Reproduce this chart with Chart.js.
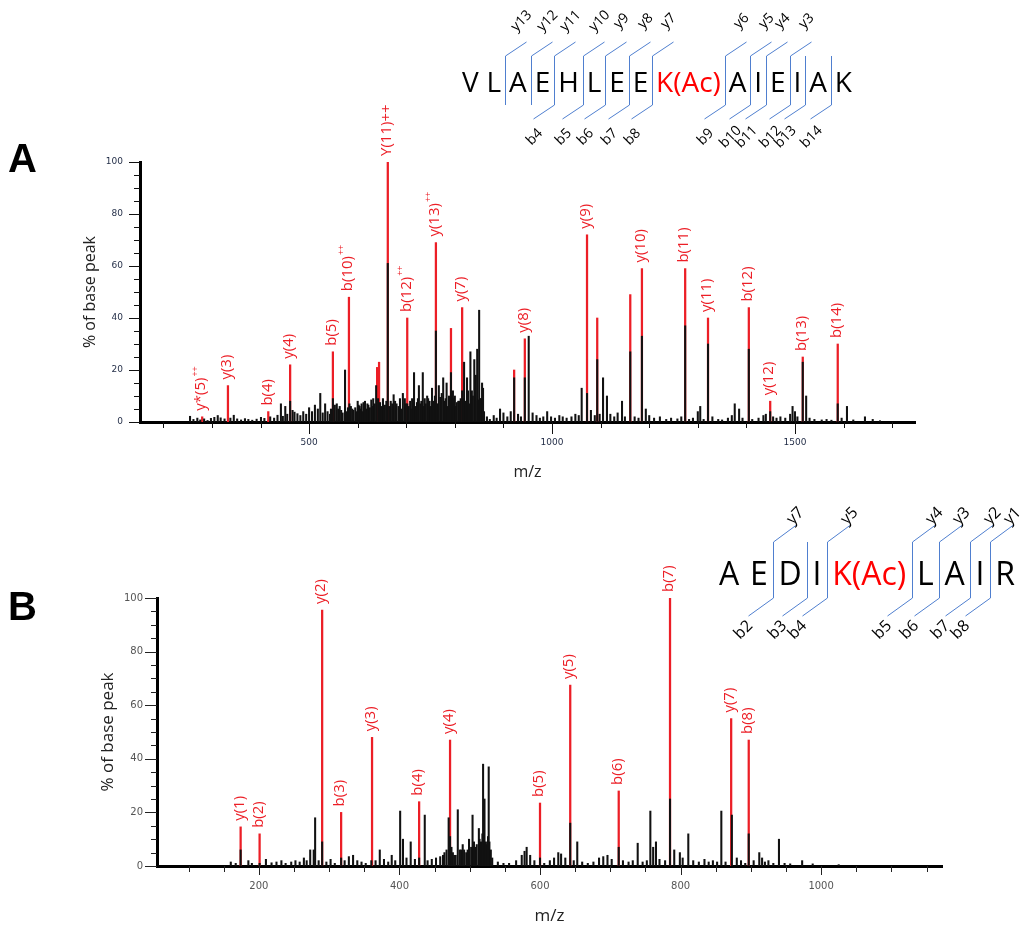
<!DOCTYPE html>
<html>
<head>
<meta charset="utf-8">
<title>MS/MS spectra</title>
<script src="https://cdn.jsdelivr.net/npm/chart.js@4.4.1/dist/chart.umd.min.js"></script>
<style>
  html, body { margin: 0; padding: 0; background: #fff; }
  #wrap { position: relative; width: 1022px; height: 926px; overflow: hidden; }
  canvas { position: absolute; left: 0; }
  #chartA { top: 0; }
  #chartB { top: 490px; }
</style>
</head>
<body>
<div id="wrap">
  <canvas id="chartA" width="1022" height="490"></canvas>
  <canvas id="chartB" width="1022" height="436"></canvas>
</div>
<script>
// ---------- panel A : VLAEHLEEK(Ac)AIEIAK ----------
const seqA = ['V', 'L', 'A', 'E', 'H', 'L', 'E', 'E', 'K(Ac)', 'A', 'I', 'E', 'I', 'A', 'K'];
const modA = 8;
const bIonsA = [4, 5, 6, 7, 8, 9, 10, 11, 12, 13, 14];
const yIonsA = [13, 12, 11, 10, 9, 8, 7, 6, 5, 4, 3];

// matched fragment ions (red), '^' = superscript charge
const ionMzA = [280, 333, 416, 461, 549, 582, 662, 702, 761, 815, 944, 1072, 1185, 1274, 1321, 1405, 1449, 1516, 1588];
const ionIntA = [2, 14, 4, 22, 27, 48, 100, 40, 69, 44, 32, 72, 59, 59, 40, 44, 8, 25, 30];
const ionLabelA = ['y*(5)^++', 'y(3)', 'b(4)', 'y(4)', 'b(5)', 'b(10)^++', 'Y(11)++', 'b(12)^++', 'y(13)^++', 'y(7)',
  'y(8)', 'y(9)', 'y(10)', 'b(11)', 'y(11)', 'b(12)', 'y(12)', 'b(13)', 'b(14)'];
// other matched peaks without a label
const redMzA = [640, 644, 792, 922, 1093, 1161];
const redIntA = [21, 23, 36, 20, 40, 49];

// raw spectrum (black)
const peakMzA = [255, 262, 270, 276, 284, 291, 298, 305, 312, 318, 326, 338, 345, 352, 360, 368, 375, 383, 392, 401,
  408, 420, 428, 435, 442, 446, 451, 455, 461, 466, 470, 476, 482, 488, 494, 500, 506, 512, 518, 523,
  528, 533, 538, 543, 549, 553, 557, 560, 566, 574, 580, 586, 591, 595, 600, 604, 608, 612, 618, 622,
  628, 632, 638, 646, 652, 656, 662, 668, 674, 680, 687, 693, 702, 708, 712, 716, 722, 726, 734, 738,
  743, 748, 753, 759, 761, 764, 767, 770, 773, 776, 783, 788, 792, 796, 800, 804, 807, 812, 815, 819,
  822, 825, 827, 832, 835, 840, 843, 846, 848, 850, 854, 856, 858, 866, 872, 880, 886, 893, 900, 908,
  915, 922, 930, 936, 944, 952, 960, 968, 975, 982, 990, 998, 1006, 1015, 1022, 1030, 1040, 1048, 1055, 1061,
  1072, 1080, 1088, 1093, 1098, 1105, 1113, 1120, 1128, 1135, 1144, 1150, 1161, 1170, 1178, 1185, 1193, 1200, 1210, 1222,
  1235, 1245, 1258, 1266, 1274, 1282, 1290, 1300, 1305, 1312, 1321, 1330, 1342, 1350, 1362, 1370, 1376, 1385, 1392, 1405,
  1412, 1425, 1435, 1440, 1449, 1455, 1462, 1470, 1480, 1490, 1495, 1500, 1505, 1516, 1523, 1530, 1540, 1555, 1565, 1575,
  1588, 1596, 1607, 1620, 1644, 1660, 1675];
const peakIntA = [2.2, 1, 1.5, 0.8, 1.2, 0.6, 1.4, 1.8, 2.5, 1.6, 1.2, 1.5, 2.6, 1.2, 0.8, 1.3, 1, 0.7, 1.1, 1.8,
  1.4, 2, 1.5, 2.6, 7, 2.2, 6, 3, 8, 4.5, 3.8, 3.2, 2.5, 4, 3, 5.5, 4, 6.5, 5, 11,
  3.5, 7, 4, 3, 9, 6.5, 7, 5, 4.5, 20, 5.5, 6, 4.5, 5.5, 8, 6, 7, 7.5, 5, 6.5,
  8.5, 9, 14, 7.5, 9, 6.5, 61, 8, 10.5, 7, 9, 11, 7, 8, 9, 19, 7.5, 14, 19, 9,
  10, 8, 13, 10, 35, 7, 14, 9.5, 11, 17, 15, 10, 19, 12, 10, 7.5, 8, 9, 12, 23,
  8, 17, 12, 27, 12, 24, 18, 28, 8.5, 43, 9, 15, 13, 2, 1, 2.5, 1.5, 5, 3.5, 2,
  4, 17, 3, 2, 17, 33, 3.5, 2.5, 1.5, 2, 4, 2, 1.5, 2.5, 2, 1.5, 2, 3, 2.5, 13,
  11, 4.5, 2.5, 24, 3, 17, 10, 3, 2, 3.5, 8, 2, 27, 2, 1.5, 33, 5, 2.5, 1.5, 2,
  1, 1.5, 1.2, 2, 37, 1, 1.5, 4, 6, 1, 30, 2, 1, 0.8, 1.5, 2.5, 7, 5, 1.5, 28,
  1, 1.5, 2.5, 3, 4, 2, 1.5, 2, 1.5, 3, 6, 4, 2, 23, 10, 1.5, 1, 0.8, 1, 0.7,
  7, 1.5, 6, 0.8, 2, 1, 0.5];
// the dense low cluster between m/z 540 and 860
const clusterMzA = [545, 563, 569, 577, 583, 589, 597, 602, 606, 610, 615, 620, 625, 630, 635, 642, 649, 654, 659, 665,
  671, 677, 684, 690, 697, 699, 705, 710, 714, 719, 724, 729, 731, 736, 740, 745, 750, 756, 762, 779,
  781, 786, 790, 798, 802, 809, 817, 829, 837, 842, 852, 860];
const clusterIntA = [5, 6, 3.5, 4, 7, 5, 4, 6.5, 5, 4, 8, 7, 5.5, 6, 7, 9, 6, 5, 8, 6,
  7, 8, 6, 5, 9, 7, 6, 5, 8, 6, 9, 7, 8, 6, 7, 9, 6, 8, 7, 8,
  9, 6, 7, 9, 6, 8, 9, 7, 10, 8, 9, 4];
const xTicksA = [500, 1000, 1500];

// ---------- panel B : AEDIK(Ac)LAIR ----------
const seqB = ['A', 'E', 'D', 'I', 'K(Ac)', 'L', 'A', 'I', 'R'];
const modB = 4;
const bIonsB = [2, 3, 4, 5, 6, 7, 8];
const yIonsB = [7, 5, 4, 3, 2, 1];

const ionMzB = [174, 201, 290, 317, 361, 428, 472, 600, 643, 712, 785, 872, 897];
const ionIntB = [14.6, 12, 95.5, 20, 48, 24, 47, 23.5, 67.5, 28, 100, 55, 47];
const ionLabelB = ['y(1)', 'b(2)', 'y(2)', 'b(3)', 'y(3)', 'b(4)', 'y(4)', 'b(5)', 'y(5)', 'b(6)', 'b(7)', 'y(7)', 'b(8)'];
const redMzB = [];
const redIntB = [];

const peakMzB = [160, 167, 174, 185, 190, 201, 210, 218, 225, 232, 238, 246, 252, 258, 264, 268, 273, 278, 280, 285,
  290, 296, 302, 308, 317, 322, 328, 334, 340, 346, 352, 360, 366, 372, 378, 384, 389, 394, 401, 405,
  410, 416, 422, 428, 436, 440, 446, 452, 458, 462, 470, 472, 476, 480, 483, 488, 492, 495, 499, 504,
  508, 513, 516, 519, 521, 524, 527, 528, 532, 540, 548, 556, 566, 574, 578, 581, 586, 592, 600, 606,
  614, 620, 626, 630, 636, 643, 648, 653, 660, 668, 676, 684, 690, 696, 702, 712, 718, 726, 732, 739,
  746, 752, 757, 761, 765, 770, 778, 785, 791, 799, 803, 811, 818, 826, 834, 840, 846, 852, 858, 864,
  873, 880, 886, 892, 897, 904, 912, 916, 920, 925, 932, 940, 948, 956, 973, 988, 1025];
const peakIntB = [1.5, 1, 6, 2, 1, 1, 2.5, 1.2, 1.5, 2, 1, 1.5, 2, 1.5, 3, 2, 6, 6, 18, 2,
  9, 1.5, 2.5, 1, 3, 2, 3.5, 4, 2, 1.5, 1, 2, 2, 6, 2.5, 1.5, 4, 2, 20.5, 10,
  3, 9, 2.5, 3, 19, 2, 2.5, 3, 3.5, 4, 18, 11, 5, 4, 21, 6, 6, 5, 10, 19,
  7, 14, 9, 38, 25, 8, 37, 9, 3, 1.5, 1, 1, 2, 4, 5.5, 7, 4, 2, 3, 1,
  2, 3, 5, 4.5, 3, 16, 2, 9, 1.5, 1, 1.5, 3, 3.5, 4, 2.5, 7, 2, 1.5, 2, 8.5,
  1.5, 2, 20.5, 7, 9, 2.5, 2, 25, 6, 5, 3, 12, 2, 1.5, 2.5, 1.5, 2, 1.5, 20.5, 1.5,
  19, 3, 2, 1, 12, 2, 5, 3, 1.5, 2, 1, 10, 1, 0.8, 2, 0.8, 0.5];
const clusterMzB = [464, 467, 474, 478, 486, 490, 497, 502, 506, 510, 514, 518, 523, 526, 530];
const clusterIntB = [5, 6, 7, 4, 6, 8, 6, 7, 9, 8, 10, 12, 9, 11, 6];
const xTicksB = [200, 400, 600, 800, 1000];

const yTicks = [0, 20, 40, 60, 80, 100];

const RED = 'rgb(236, 30, 38)';
const BLUE = '#4f7fcf';

// rotated red labels above the matched ions
const ionLabelPlugin = {
  id: 'ionLabels',
  afterDatasetsDraw(chart, args, o) {
    const { ctx, scales: { x, y } } = chart;
    ctx.save();
    ctx.fillStyle = RED;
    o.mz.forEach((m, i) => {
      let main = o.labels[i], sup = '';
      if (main.endsWith('^++')) { sup = '++'; main = main.slice(0, -3); }
      ctx.save();
      ctx.translate(x.getPixelForValue(m) - 1, y.getPixelForValue(o.int[i]) - 6);
      ctx.rotate(-Math.PI / 2);
      ctx.font = '15px "Open Sans"';
      ctx.textAlign = 'left';
      ctx.textBaseline = 'middle';
      ctx.fillText(main, 0, 0);
      if (sup) {
        const w = ctx.measureText(main).width;
        ctx.font = '9px "Open Sans"';
        ctx.fillText(sup, w + 1, -6);
      }
      ctx.restore();
    });
    ctx.restore();
  }
};

// small and large tick marks on both axes
const axisTickPlugin = {
  id: 'axisTicks',
  afterDraw(chart, args, o) {
    const { ctx, chartArea: a, scales: { x, y } } = chart;
    ctx.save();
    ctx.strokeStyle = o.color;
    ctx.lineWidth = 1;
    ctx.beginPath();
    for (let v = 0; v <= 100; v += 5) {
      const py = Math.round(y.getPixelForValue(v)) + 0.5;
      const len = v % 20 === 0 ? o.yMajor : o.yMinor;
      ctx.moveTo(a.left - len, py);
      ctx.lineTo(a.left, py);
    }
    for (let v = o.xFrom; v <= o.xTo; v += o.xStep) {
      const px = Math.round(x.getPixelForValue(v)) + 0.5;
      const len = v % o.xMajorEvery === 0 ? o.xMajor : o.xMinor;
      ctx.moveTo(px, a.bottom);
      ctx.lineTo(px, a.bottom + len);
    }
    ctx.stroke();
    ctx.restore();
  }
};

// peptide sequence with b / y cleavage marks, and the panel letter
const sequencePlugin = {
  id: 'sequence',
  afterDraw(chart, args, o) {
    const ctx = chart.ctx;
    ctx.save();
    ctx.fillStyle = '#000';
    ctx.font = 'bold 40px "Liberation Sans"';
    ctx.textBaseline = 'alphabetic';
    ctx.textAlign = 'left';
    ctx.fillText(o.panel, o.panelX, o.panelY);

    ctx.font = o.font;
    const widths = o.seq.map(r => ctx.measureText(r).width);
    const total = widths.reduce((s, w) => s + w, 0);
    const gap = (o.right - o.left - total) / (o.seq.length - 1);
    const lefts = [];
    let cx = o.left;
    widths.forEach(w => { lefts.push(cx); cx += w + gap; });
    o.seq.forEach((r, i) => {
      ctx.fillStyle = i === o.mod ? '#ff0000' : '#000';
      ctx.fillText(r, lefts[i], o.baseline);
    });

    const n = o.seq.length;
    const cuts = {};
    o.b.forEach(k => { cuts[k] = cuts[k] || {}; cuts[k].b = k; });
    o.y.forEach(k => { const c = n - k; cuts[c] = cuts[c] || {}; cuts[c].y = k; });

    ctx.strokeStyle = BLUE;
    ctx.lineWidth = 1;
    ctx.font = o.labelFont;
    ctx.textAlign = 'center';
    ctx.textBaseline = 'middle';
    Object.keys(cuts).forEach(key => {
      const k = Number(key), c = cuts[key];
      const px = Math.round(lefts[k] - gap / 2) + 0.5;
      ctx.beginPath();
      ctx.moveTo(px, o.top);
      ctx.lineTo(px, o.bottom);
      if (c.y) {
        ctx.moveTo(px, o.top);
        ctx.lineTo(px + o.dTop[0], o.top + o.dTop[1]);
      }
      if (c.b) {
        ctx.moveTo(px, o.bottom);
        ctx.lineTo(px + o.dBot[0], o.bottom + o.dBot[1]);
      }
      ctx.stroke();
      ctx.fillStyle = '#000';
      if (c.y) {
        ctx.save();
        ctx.translate(px + o.dTop[0] + o.yOff[0], o.top + o.dTop[1] + o.yOff[1]);
        ctx.rotate(-Math.PI / 4);
        ctx.fillText('y' + c.y, 0, 0);
        ctx.restore();
      }
      if (c.b) {
        ctx.save();
        ctx.translate(px + o.dBot[0] + o.bOff[0], o.bottom + o.dBot[1] + o.bOff[1]);
        ctx.rotate(-Math.PI / 4);
        ctx.fillText('b' + c.b, 0, 0);
        ctx.restore();
      }
    });
    ctx.restore();
  }
};

function spectrum(canvasId, d, lay) {
  const redMz = d.ionMz.concat(d.redMz);
  const redInt = d.ionInt.concat(d.redInt);
  const blackMz = d.peakMz.concat(d.clusterMz);
  const blackInt = d.peakInt.concat(d.clusterInt);
  const ionData = redMz.map((m, i) => ({ x: m, y: redInt[i] }));
  const peakData = blackMz.map((m, i) => ({ x: m, y: blackInt[i] }));
  return new Chart(document.getElementById(canvasId), {
    type: 'bar',
    data: {
      datasets: [
        { label: 'spectrum', data: peakData, backgroundColor: '#111', barThickness: 1.4, grouped: false, order: 1 },
        { label: 'matched ions', data: ionData, backgroundColor: RED, barThickness: 1.6, grouped: false, order: 2 }
      ]
    },
    options: {
      responsive: false,
      animation: false,
      layout: { padding: lay.padding },
      plugins: {
        legend: { display: false },
        tooltip: { enabled: false },
        ionLabels: { mz: d.ionMz, int: d.ionInt, labels: d.ionLabel },
        axisTicks: lay.ticks,
        sequence: lay.seq
      },
      scales: {
        x: {
          type: 'linear', min: lay.xMin, max: lay.xMax, offset: false,
          afterFit: s => { s.height = lay.xHeight; },
          afterBuildTicks: s => { s.ticks = d.xTicks.map(v => ({ value: v })); },
          grid: { display: false, drawTicks: false },
          border: { display: true, color: '#000', width: 3 },
          ticks: { padding: lay.xTickPad, autoSkip: false, maxRotation: 0, color: lay.tickColor,
                   callback: v => String(v),
                   font: { family: 'DejaVu Sans', size: lay.tickSize } },
          title: { display: true, text: 'm/z', color: '#222',
                   font: { family: 'Open Sans', size: lay.titleSize }, padding: { top: 0, bottom: lay.xTitlePad } }
        },
        y: {
          min: 0, max: 100,
          afterFit: s => { s.width = lay.yWidth; },
          afterBuildTicks: s => { s.ticks = yTicks.map(v => ({ value: v })); },
          grid: { display: false, drawTicks: false },
          border: { display: true, color: '#000', width: 3 },
          ticks: { padding: lay.yTickPad, color: lay.tickColor,
                   callback: v => String(v),
                   font: { family: 'DejaVu Sans', size: lay.tickSize } },
          title: { display: true, text: '% of base peak', color: '#222',
                   font: { family: 'Open Sans', size: lay.titleSize }, padding: { top: lay.yTitlePad, bottom: 0 } }
        }
      }
    },
    plugins: [ionLabelPlugin, axisTickPlugin, sequencePlugin]
  });
}

spectrum('chartA', {
  ionMz: ionMzA, ionInt: ionIntA, ionLabel: ionLabelA, redMz: redMzA, redInt: redIntA,
  peakMz: peakMzA, peakInt: peakIntA, clusterMz: clusterMzA, clusterInt: clusterIntA, xTicks: xTicksA
}, {
  padding: { left: 72, top: 162, right: 107, bottom: 0 },
  xMin: 152, xMax: 1747, xHeight: 68, yWidth: 68,
  xTickPad: 15, yTickPad: 17, tickSize: 9, tickColor: '#1f2a44',
  titleSize: 16, xTitlePad: 8, yTitlePad: 9,
  ticks: { color: '#111', yMajor: 11, yMinor: 6, xFrom: 200, xTo: 1700, xStep: 100, xMajorEvery: 500, xMajor: 12, xMinor: 6 },
  seq: {
    panel: 'A', panelX: 8, panelY: 172,
    seq: seqA, mod: modA, b: bIonsA, y: yIonsA,
    font: '28px "Open Sans"', labelFont: '14px "Open Sans"',
    left: 462, right: 852, baseline: 92, top: 56, bottom: 105,
    dTop: [21, -14], dBot: [-21, 14], yOff: [-5, -21], bOff: [1, 18]
  }
});

spectrum('chartB', {
  ionMz: ionMzB, ionInt: ionIntB, ionLabel: ionLabelB, redMz: redMzB, redInt: redIntB,
  peakMz: peakMzB, peakInt: peakIntB, clusterMz: clusterMzB, clusterInt: clusterIntB, xTicks: xTicksB
}, {
  padding: { left: 88, top: 108, right: 80, bottom: 0 },
  xMin: 55, xMax: 1172, xHeight: 60, yWidth: 69,
  xTickPad: 14, yTickPad: 14, tickSize: 10, tickColor: '#555',
  titleSize: 17, xTitlePad: 0, yTitlePad: 10,
  ticks: { color: '#222', yMajor: 12, yMinor: 6, xFrom: 100, xTo: 1150, xStep: 50, xMajorEvery: 200, xMajor: 9, xMinor: 6 },
  seq: {
    panel: 'B', panelX: 8, panelY: 130,
    seq: seqB, mod: modB, b: bIonsB, y: yIonsB,
    font: '32px "Open Sans"', labelFont: '16px "Open Sans"',
    left: 719, right: 1015, baseline: 95, top: 52, bottom: 108,
    dTop: [23, -17], dBot: [-25, 18], yOff: [-1, -9], bOff: [-5, 14]
  }
});
</script>
</body>
</html>
